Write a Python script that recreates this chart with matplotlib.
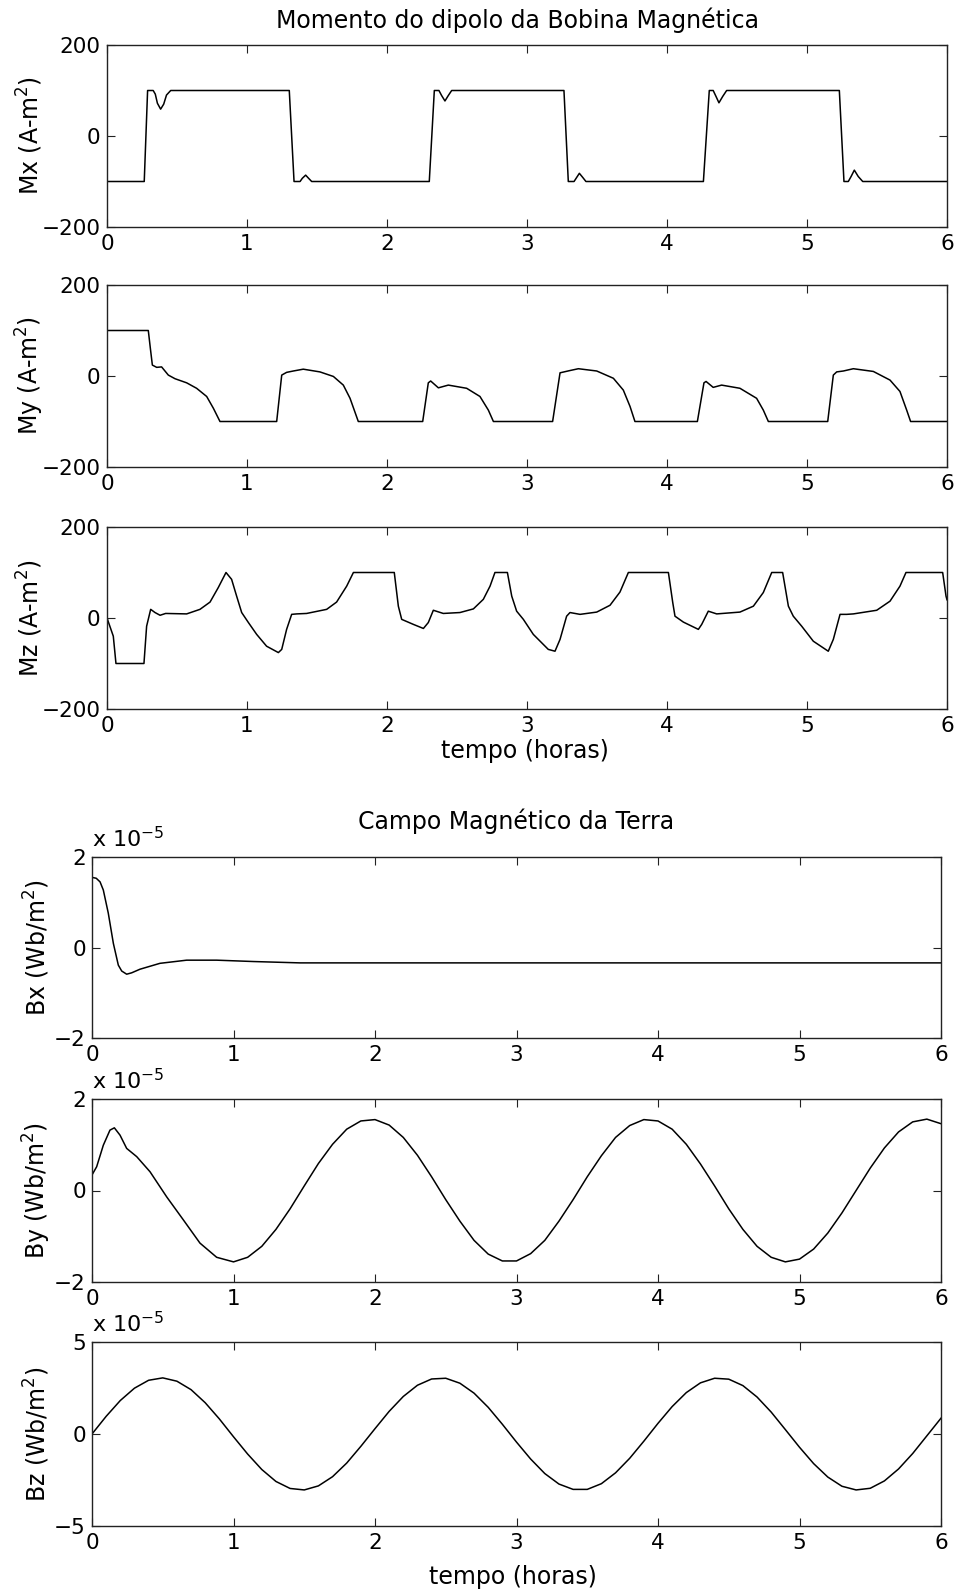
import matplotlib
matplotlib.use("Agg")
import matplotlib.pyplot as plt

# ---------------- data ----------------
# time axis in hours; M in A-m^2; B in units of 1e-5 Wb/m^2
xticks = [0, 1, 2, 3, 4, 5, 6]
m_yticks = [-200, 0, 200]
bxy_yticks = [-2, 0, 2]
bz_yticks = [-5, 0, 5]

mx_t = [0, 0.266, 0.29, 0.33, 0.345, 0.36, 0.383, 0.405, 0.425, 0.455,
        1.302, 1.336, 1.379, 1.395, 1.419, 1.44, 1.462,
        2.302, 2.338, 2.371, 2.39, 2.414, 2.438, 2.462,
        3.264, 3.295, 3.336, 3.355, 3.374, 3.398, 3.421,
        4.26, 4.302, 4.33, 4.35, 4.371, 4.398, 4.426,
        5.231, 5.264, 5.295, 5.315, 5.338, 5.366, 5.398, 6.0]
mx_v = [-100, -100, 100, 100, 92, 72, 59, 70, 90, 100,
        100, -100, -100, -93, -86, -93, -100,
        -100, 100, 100, 89, 77, 89, 100,
        100, -100, -100, -91, -82, -91, -100,
        -100, 100, 100, 87, 73, 87, 100,
        100, -100, -100, -89, -75, -89, -100, -100]

my_t = [0, 0.295, 0.31, 0.324, 0.355, 0.39, 0.438, 0.486, 0.569, 0.64, 0.712, 0.76, 0.807,
        1.212, 1.248, 1.283, 1.331, 1.402, 1.521, 1.617, 1.688, 1.736, 1.795,
        2.255, 2.295, 2.312, 2.367, 2.438, 2.569, 2.664, 2.724, 2.76,
        3.183, 3.236, 3.307, 3.367, 3.498, 3.617, 3.688, 3.736, 3.771,
        4.217, 4.264, 4.279, 4.33, 4.39, 4.521, 4.64, 4.688, 4.724,
        5.148, 5.188, 5.212, 5.26, 5.331, 5.474, 5.593, 5.664, 5.712, 5.74, 6.0]
my_v = [100, 100, 60, 24, 19, 20, 2, -6, -15, -27, -45, -71, -100,
        -100, 2, 8, 11, 15, 9, -1, -20, -49, -100,
        -100, -15, -11, -26, -20, -27, -45, -75, -100,
        -100, 7, 12, 16, 11, -5, -31, -67, -100,
        -100, -15, -12, -25, -20, -27, -49, -75, -100,
        -100, 2, 9, 11, 16, 10, -9, -34, -75, -100, -100]

mz_t = [0, 0.045, 0.064, 0.264, 0.283, 0.312, 0.343, 0.379, 0.419, 0.569, 0.664, 0.736, 0.795,
        0.85, 0.89, 0.926, 0.962, 1.01, 1.069, 1.14, 1.224, 1.248, 1.283, 1.319, 1.355, 1.426,
        1.569, 1.64, 1.712, 1.76, 2.052, 2.081, 2.105, 2.188, 2.26, 2.295, 2.331, 2.402, 2.521,
        2.617, 2.688, 2.736, 2.771, 2.86, 2.891, 2.926, 2.974, 3.045, 3.152, 3.2, 3.236, 3.283,
        3.307, 3.379, 3.498, 3.593, 3.664, 3.724, 4.01, 4.041, 4.057, 4.117, 4.224, 4.248, 4.295,
        4.355, 4.521, 4.617, 4.688, 4.748, 4.826, 4.867, 4.902, 4.962, 5.045, 5.152, 5.188, 5.236,
        5.283, 5.331, 5.498, 5.593, 5.664, 5.707, 5.969, 5.993, 6.0]
mz_v = [0, -40, -100, -100, -18, 19, 12, 6, 10, 9, 19, 35, 67,
        100, 85, 48, 12, -10, -36, -62, -76, -69, -25, 8, 9, 10,
        19, 35, 70, 100, 100, 26, -3, -14, -23, -10, 17, 10, 12,
        20, 41, 70, 100, 100, 48, 15, -3, -36, -69, -73, -47, 4,
        12, 8, 13, 28, 57, 100, 100, 34, 4, -9, -25, -14, 15,
        9, 13, 26, 56, 100, 100, 26, 4, -18, -51, -73, -47, 8,
        8, 9, 17, 37, 70, 100, 100, 48, 40]

bx_t = [0, 0.03, 0.057, 0.08, 0.115, 0.151, 0.186, 0.21, 0.245, 0.28, 0.339, 0.48,
        0.669, 0.881, 1.14, 1.47, 2.0, 3.0, 4.0, 5.0, 6.0]
bx_v = [1.55, 1.53, 1.45, 1.27, 0.76, 0.09, -0.39, -0.52, -0.59, -0.56, -0.48, -0.35,
        -0.28, -0.28, -0.31, -0.34, -0.34, -0.34, -0.34, -0.34, -0.34]

by_t = [0, 0.033, 0.08, 0.127, 0.158, 0.198, 0.245, 0.316, 0.41, 0.528, 0.645, 0.763, 0.881,
        1.0, 1.1, 1.2, 1.3, 1.4, 1.5, 1.6, 1.7, 1.8, 1.9,
        2.0, 2.1, 2.2, 2.3, 2.4, 2.5, 2.6, 2.7, 2.8, 2.9,
        3.0, 3.1, 3.2, 3.3, 3.4, 3.5, 3.6, 3.7, 3.8, 3.9,
        4.0, 4.1, 4.2, 4.3, 4.4, 4.5, 4.6, 4.7, 4.8, 4.9,
        5.0, 5.1, 5.2, 5.3, 5.4, 5.5, 5.6, 5.7, 5.8, 5.9, 6.0]
by_v = [0.34, 0.52, 0.99, 1.32, 1.37, 1.21, 0.92, 0.74, 0.41, -0.14, -0.64, -1.15, -1.46,
        -1.56, -1.46, -1.22, -0.85, -0.40, 0.10, 0.59, 1.01, 1.34, 1.52,
        1.55, 1.43, 1.16, 0.77, 0.30, -0.20, -0.67, -1.09, -1.39, -1.54,
        -1.54, -1.38, -1.09, -0.67, -0.20, 0.30, 0.76, 1.16, 1.42, 1.55,
        1.52, 1.34, 1.01, 0.58, 0.10, -0.40, -0.85, -1.22, -1.46, -1.56,
        -1.50, -1.28, -0.93, -0.49, 0.00, 0.49, 0.93, 1.28, 1.50, 1.56, 1.46]

bz_t = [0.0, 0.1, 0.2, 0.3, 0.4, 0.5, 0.6, 0.7, 0.8, 0.9,
        1.0, 1.1, 1.2, 1.3, 1.4, 1.5, 1.6, 1.7, 1.8, 1.9,
        2.0, 2.1, 2.2, 2.3, 2.4, 2.5, 2.6, 2.7, 2.8, 2.9,
        3.0, 3.1, 3.2, 3.3, 3.4, 3.5, 3.6, 3.7, 3.8, 3.9,
        4.0, 4.1, 4.2, 4.3, 4.4, 4.5, 4.6, 4.7, 4.8, 4.9,
        5.0, 5.1, 5.2, 5.3, 5.4, 5.5, 5.6, 5.7, 5.8, 5.9, 6.0]
bz_v = [0.00, 0.96, 1.82, 2.49, 2.92, 3.05, 2.87, 2.41, 1.70, 0.82,
        -0.15, -1.09, -1.93, -2.58, -2.96, -3.04, -2.82, -2.32, -1.58, -0.67,
        0.29, 1.23, 2.04, 2.65, 2.99, 3.03, 2.76, 2.22, 1.45, 0.53,
        -0.44, -1.36, -2.15, -2.72, -3.01, -3.01, -2.70, -2.11, -1.32, -0.39,
        0.58, 1.49, 2.25, 2.78, 3.03, 2.98, 2.63, 2.01, 1.19, 0.24,
        -0.72, -1.61, -2.34, -2.84, -3.04, -2.95, -2.55, -1.90, -1.06, -0.10, 0.86]

title_m = "Momento do dipolo da Bobina Magnética"
title_b = "Campo Magnético da Terra"
xlabel = "tempo (horas)"
m_labels = ["Mx (A-m$^2$)", "My (A-m$^2$)", "Mz (A-m$^2$)"]
b_labels = ["Bx (Wb/m$^2$)", "By (Wb/m$^2$)", "Bz (Wb/m$^2$)"]
scale_txt = "x 10$^{-5}$"

# ---------------- figure ----------------
plt.rcParams['font.family'] = ['DejaVu Sans']
plt.rcParams['mathtext.fontset'] = 'dejavusans'
FS_TICK = 15.5
FS_LAB = 17
W, H = 957, 1590
fig = plt.figure(figsize=(W / 100, H / 100), dpi=100)


def add_ax(l, t, r, b):
    ax = fig.add_axes([l / W, 1 - b / H, (r - l) / W, (b - t) / H])
    ax.tick_params(direction='in', top=True, right=True, length=6, width=0.8,
                   labelsize=FS_TICK, color='#222222')
    ax.tick_params(axis='x', pad=5)
    ax.tick_params(axis='y', pad=4.5)
    for s in ax.spines.values():
        s.set_linewidth(1.0)
        s.set_color('#222222')
    ax.set_xlim(0, 6)
    ax.set_xticks(xticks)
    return ax


m_boxes = [(107, 45, 947, 227), (107, 285, 947, 467), (107, 527, 947, 709)]
b_boxes = [(92, 857, 941, 1038), (92, 1099, 941, 1282), (92, 1342, 941, 1526)]

line_kw = dict(color='black', lw=1.1, solid_joinstyle='round')

m_series = [(mx_t, mx_v), (my_t, my_v), (mz_t, mz_v)]
for (box, (t, v), lab) in zip(m_boxes, m_series, m_labels):
    ax = add_ax(*box)
    ax.plot(t, v, **line_kw)
    ax.set_ylim(-200, 200)
    ax.set_yticks(m_yticks)
    yc = (box[1] + box[3]) / 2
    fig.text(30 / W, 1 - yc / H, lab, rotation=90, ha='center', va='center', fontsize=FS_LAB)

b_series = [(bx_t, bx_v), (by_t, by_v), (bz_t, bz_v)]
b_lims = [(-2, 2), (-2, 2), (-5, 5)]
b_ticks = [bxy_yticks, bxy_yticks, bz_yticks]
for (box, (t, v), lab, lim, tk) in zip(b_boxes, b_series, b_labels, b_lims, b_ticks):
    ax = add_ax(*box)
    ax.plot(t, v, **line_kw)
    ax.set_ylim(*lim)
    ax.set_yticks(tk)
    yc = (box[1] + box[3]) / 2
    fig.text(37 / W, 1 - yc / H, lab, rotation=90, ha='center', va='center', fontsize=FS_LAB)
    ax.annotate(scale_txt, xy=(0, 1), xycoords='axes fraction', xytext=(0, 10),
                textcoords='offset pixels', ha='left', va='baseline', fontsize=16)

fig.text(517 / W, 1 - 28 / H, title_m, ha='center', va='baseline', fontsize=FS_LAB)
fig.text(516 / W, 1 - 829 / H, title_b, ha='center', va='baseline', fontsize=FS_LAB)
fig.text(525 / W, 1 - 758 / H, xlabel, ha='center', va='baseline', fontsize=FS_LAB)
fig.text(513 / W, 1 - 1584 / H, xlabel, ha='center', va='baseline', fontsize=FS_LAB)

fig.savefig("out.png", dpi=100)
